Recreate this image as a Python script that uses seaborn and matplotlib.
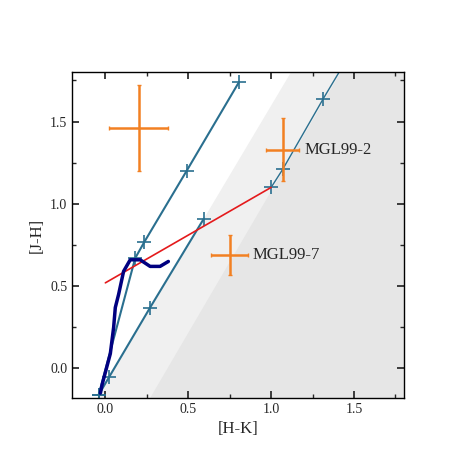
import numpy as np
import seaborn as sns
import matplotlib.pyplot as plt
from matplotlib.ticker import MultipleLocator

sns.set_theme(style="ticks")
plt.rcParams['font.family'] = ['Liberation Serif', 'DejaVu Serif']
plt.rcParams['mathtext.fontset'] = 'stix'

# reddening vectors / sequences
line1_hk = [-0.04, 0.18, 0.236, 0.49, 0.806]
line1_jh = [-0.16, 0.67, 0.77, 1.20, 1.74]
line2_hk = [-0.04, 0.024, 0.27, 0.594]
line2_jh = [-0.16, -0.05, 0.37, 0.91]
line3_hk = [1.0, 1.07, 1.315, 1.41]
line3_jh = [1.10, 1.21, 1.64, 1.80]
red_hk = [0.0, 1.0]
red_jh = [0.52, 1.10]
track_hk = [-0.03, -0.02, 0.03, 0.05, 0.06, 0.08, 0.11, 0.15, 0.21, 0.27, 0.33, 0.38]
track_jh = [-0.15, -0.10, 0.09, 0.25, 0.37, 0.45, 0.59, 0.66, 0.66, 0.62, 0.62, 0.65]

# sources
src_hk = [0.2, 1.07, 0.75]
src_jh = [1.46, 1.33, 0.69]
src_xerr = [0.18, 0.10, 0.11]
src_yerr = [0.26, 0.19, 0.12]
src_names = ['', 'MGL99-2', 'MGL99-7']

fig = plt.figure(figsize=(4.75, 4.75), dpi=100)
ax = fig.add_axes([0.152, 0.162, 0.698, 0.686])
ax.set_xlim(-0.2, 1.8)
ax.set_ylim(-0.18, 1.8)

# shaded regions
ax.fill([-0.05, 1.12, 1.8, 1.8], [-0.18, 1.8, 1.8, -0.18], color='#f0f0f0', lw=0, zorder=0)
ax.fill([0.27, 1.42, 1.8, 1.8], [-0.18, 1.8, 1.8, -0.18], color='#e6e6e6', lw=0, zorder=0)

c = '#2a6f8f'
ax.plot(line1_hk, line1_jh, color=c, lw=1.5, marker='+', ms=10, mew=1.2)
ax.plot(line2_hk, line2_jh, color=c, lw=1.5, marker='+', ms=10, mew=1.2)
ax.plot(line3_hk, line3_jh, color=c, lw=1.0, marker='+', ms=10, mew=1.2, markevery=[0, 1, 2])
ax.plot(red_hk, red_jh, color='#e41a1c', lw=1.2)
sns.lineplot(x=track_hk, y=track_jh, sort=False, color='#000080', lw=2.5, ax=ax)

ax.errorbar(src_hk, src_jh, xerr=src_xerr, yerr=src_yerr, fmt='none',
            ecolor='#f28022', elinewidth=1.8, capsize=1.5)
for x, y, xe, n in zip(src_hk, src_jh, src_xerr, src_names):
    if n:
        ax.text(x + xe + 0.03, y, n, va='center', fontsize=12)

ax.set_xlabel('[H-K]', fontsize=12)
ax.set_ylabel('[J-H]', fontsize=12)
ax.xaxis.set_major_locator(MultipleLocator(0.5))
ax.yaxis.set_major_locator(MultipleLocator(0.5))
ax.xaxis.set_minor_locator(MultipleLocator(0.25))
ax.yaxis.set_minor_locator(MultipleLocator(0.25))
ax.tick_params(which='both', direction='in', top=True, right=True, labelsize=10)
ax.tick_params(which='major', length=5)
ax.tick_params(which='minor', length=3)
for s in ax.spines.values():
    s.set_linewidth(1.0)
    s.set_color('black')

fig.savefig('out.png', dpi=100)
